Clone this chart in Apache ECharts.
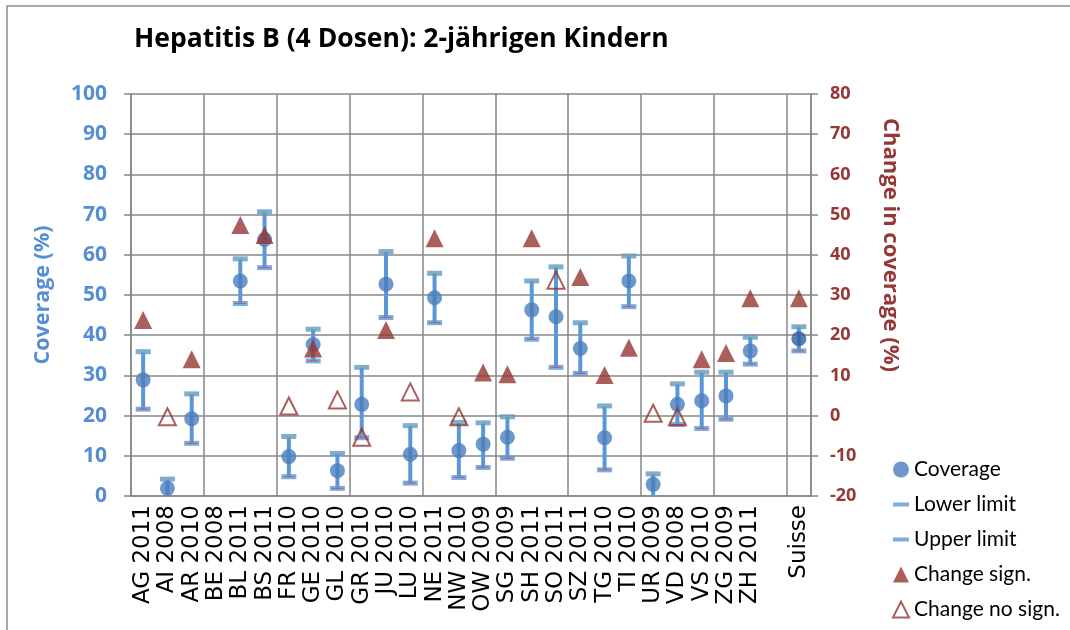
<!DOCTYPE html>
<html>
<head>
<meta charset="utf-8">
<script src="https://cdn.jsdelivr.net/npm/echarts@6/dist/echarts.min.js"></script>
<style>html,body{margin:0;padding:0;background:#fff;}#c{width:1070px;height:630px;}</style>
</head>
<body>
<div id="c"></div>
<script>
const titleText = 'Hepatitis B (4 Dosen): 2-jährigen Kindern';
const categories = ['AG 2011','AI 2008','AR 2010','BE 2008','BL 2011','BS 2011','FR 2010','GE 2010','GL 2010','GR 2010','JU 2010','LU 2010','NE 2011','NW 2010','OW 2009','SG 2009','SH 2011','SO 2011','SZ 2011','TG 2010','TI 2010','UR 2009','VD 2008','VS 2010','ZG 2009','ZH 2011','','Suisse'];
const coverage = [28.9, 1.9, 19.2, null, 53.5, 63.8, 9.8, 37.7, 6.3, 22.8, 52.7, 10.4, 49.3, 11.3, 12.9, 14.6, 46.3, 44.6, 36.7, 14.5, 53.5, 2.9, 22.8, 23.7, 24.9, 36.1, null, 39.1];
const lowerLimit = [21.6, -1, 13.1, null, 47.9, 56.8, 4.8, 33.6, 1.9, 14.5, 44.4, 3.2, 43.1, 4.6, 7.1, 9.4, 39.0, 32.0, 30.5, 6.5, 47.1, -1, 17.8, 16.8, 19.1, 32.8, null, 36.1];
const upperLimit = [35.9, 4.2, 25.4, null, 59.0, 70.7, 14.8, 41.5, 10.6, 32.0, 60.8, 17.5, 55.4, 18.3, 18.2, 19.7, 53.5, 57.0, 43.1, 22.4, 59.7, 5.5, 27.9, 30.8, 30.8, 39.5, null, 42.1];
const changeSign = [23.8, null, 14.0, null, 47.4, 44.9, null, 16.7, null, null, 21.3, null, 44.1, null, 10.7, 10.3, 44.1, null, 34.5, 10.1, 16.9, null, null, 14.0, 15.6, 29.2, null, 29.2];
const changeNoSign = [null, -0.3, null, null, null, null, 2.4, null, 3.9, -5.4, null, 5.9, null, -0.3, null, null, null, 33.7, null, null, null, 0.6, -0.3, null, null, null, null, null];
const leftTicks = {min: 0, max: 100, interval: 10};
const rightTicks = {min: -20, max: 80, interval: 10};

const BLUE_LABEL = '#558ed5';
const RED = '#953735';
const BAR = '#5b97d8';
const DOT = '#4a7ebb';
const GRID = '#878787';
const BOLD_FONT = 'Open Sans';

const toSeries = arr => arr.map(v => v == null ? '-' : v);
const errData = [];
categories.forEach((c, i) => { if (lowerLimit[i] != null && upperLimit[i] != null) errData.push([i, lowerLimit[i], upperLimit[i]]); });
const covData = coverage.map((v, i) => v == null ? '-' : (categories[i] === 'Suisse' ? {value: v, itemStyle: {color: '#2f5f97'}} : v));

const chart = echarts.init(document.getElementById('c'));
chart.setOption({
  animation: false,
  backgroundColor: '#fff',
  grid: {left: 131, right: 259, top: 94, bottom: 134},
  title: {
    text: titleText, left: 129, top: 21,
    textStyle: {fontFamily: BOLD_FONT, fontWeight: 'bold', fontSize: 26.5, color: '#000'}
  },
  graphic: [
    {type: 'rect', shape: {x: 7, y: 6, width: 1200, height: 800}, style: {fill: 'none', stroke: '#8c8c8c', lineWidth: 1.5}, silent: true},
    {type: 'text', x: 43, y: 295, rotation: Math.PI / 2, style: {text: 'Coverage (%)', fill: BLUE_LABEL, font: 'bold 21.5px "Open Sans"', textAlign: 'center', textVerticalAlign: 'middle'}},
    {type: 'text', x: 890, y: 245, rotation: -Math.PI / 2, style: {text: 'Change in coverage (%)', fill: RED, font: 'bold 22px "Open Sans"', textAlign: 'center', textVerticalAlign: 'middle'}}
  ],
  legend: {
    orient: 'vertical', left: 887, top: 454, itemWidth: 16, itemHeight: 16, itemGap: 14, itemTextGap: 4,
    textStyle: {fontFamily: 'Lato', fontSize: 21, color: '#000', lineHeight: 20},
    data: [
      {name: 'Coverage', icon: 'circle'},
      {name: 'Lower limit', icon: 'path://M0,0M0,6h16v4h-16zM16,16'},
      {name: 'Upper limit', icon: 'path://M0,0M0,6h16v4h-16zM16,16'},
      {name: 'Change sign.', icon: 'triangle'},
      {name: 'Change no sign.', icon: 'triangle'}
    ]
  },
  xAxis: {
    type: 'category', data: categories, boundaryGap: true,
    axisLine: {lineStyle: {color: GRID, width: 1.5}},
    axisTick: {interval: 2, length: 7, lineStyle: {color: GRID, width: 1.5}},
    splitLine: {show: true, interval: 2, lineStyle: {color: GRID, width: 1.5}},
    axisLabel: {interval: 0, rotate: 90, margin: 9, fontFamily: 'DejaVu Sans', fontSize: 23, color: '#000'}
  },
  yAxis: [
    {
      type: 'value', min: leftTicks.min, max: leftTicks.max, interval: leftTicks.interval,
      axisLine: {show: true, lineStyle: {color: GRID, width: 1.5}},
      axisTick: {show: true, length: 7, lineStyle: {color: GRID, width: 1.5}},
      splitLine: {show: true, lineStyle: {color: GRID, width: 1.5}},
      axisLabel: {margin: 24, fontFamily: BOLD_FONT, fontWeight: 'bold', fontSize: 21, color: BLUE_LABEL}
    },
    {
      type: 'value', min: rightTicks.min, max: rightTicks.max, interval: rightTicks.interval, position: 'right',
      axisLine: {show: true, lineStyle: {color: GRID, width: 1.5}},
      axisTick: {show: true, length: 7, lineStyle: {color: GRID, width: 1.5}},
      splitLine: {show: false},
      axisLabel: {margin: 19, fontFamily: BOLD_FONT, fontWeight: 'bold', fontSize: 18, color: RED}
    }
  ],
  series: [
    {
      name: 'errbar', type: 'custom', data: errData, z: 2,
      renderItem: function (params, api) {
        const i = api.value(0);
        const p1 = api.coord([i, Math.max(api.value(1), 0)]);
        const p2 = api.coord([i, api.value(2)]);
        return {type: 'line', shape: {x1: p1[0], y1: p1[1], x2: p2[0], y2: p2[1]}, style: {stroke: BAR, lineWidth: 4}};
      }
    },
    {name: 'Lower limit', type: 'scatter', data: toSeries(lowerLimit), symbol: 'rect', symbolSize: [15, 5], itemStyle: {color: BAR}, z: 3},
    {name: 'Upper limit', type: 'scatter', data: toSeries(upperLimit), symbol: 'rect', symbolSize: [15, 5], itemStyle: {color: BAR}, z: 3},
    {name: 'lowInner', type: 'scatter', data: toSeries(lowerLimit), symbol: 'rect', symbolSize: [11, 1], itemStyle: {color: '#c0504d'}, z: 4, silent: true},
    {name: 'upInner', type: 'scatter', data: toSeries(upperLimit), symbol: 'rect', symbolSize: [11, 1], itemStyle: {color: '#9bbb59'}, z: 4, silent: true},
    {name: 'Coverage', type: 'scatter', data: covData, symbol: 'circle', symbolSize: 15, itemStyle: {color: DOT}, z: 5},
    {name: 'Change sign.', type: 'scatter', yAxisIndex: 1, data: toSeries(changeSign), symbol: 'triangle', symbolSize: 18, itemStyle: {color: RED}, z: 6},
    {name: 'Change no sign.', type: 'scatter', yAxisIndex: 1, data: toSeries(changeNoSign), symbol: 'triangle', symbolSize: 17, itemStyle: {color: 'rgba(255,255,255,0)', borderColor: RED, borderWidth: 2}, z: 6}
  ]
});
</script>
</body>
</html>
